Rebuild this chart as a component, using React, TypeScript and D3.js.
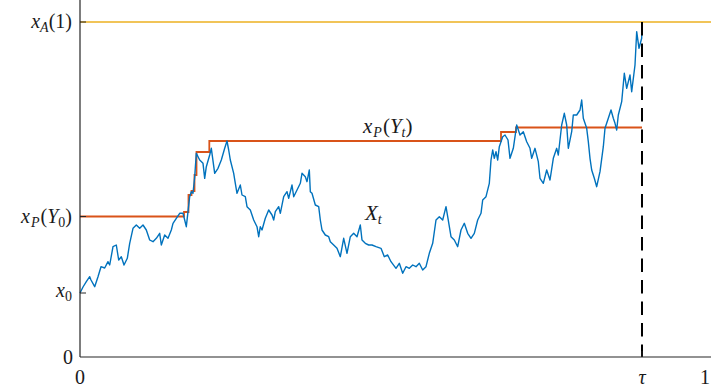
import React from "react";
import * as d3 from "d3";

// Sample path of X_t on [0, tau], as (time, level) pairs
const path: [number, number][] = [
  [0, 0.64], [0.0048, 0.7], [0.0101, 0.753], [0.0155, 0.803], [0.0176, 0.77],
  [0.0235, 0.703], [0.0288, 0.803], [0.0336, 0.903], [0.0395, 0.89], [0.0448, 0.953],
  [0.0475, 0.92], [0.0528, 1.103], [0.0581, 1.12], [0.0619, 0.97], [0.0661, 1.003],
  [0.0704, 0.92], [0.0757, 0.987], [0.0795, 1.137], [0.0848, 1.287], [0.0901, 1.32],
  [0.0955, 1.287], [0.1008, 1.32], [0.1061, 1.27], [0.1115, 1.17], [0.1168, 1.153],
  [0.1221, 1.187], [0.1275, 1.237], [0.1301, 1.12], [0.1355, 1.22], [0.1408, 1.187],
  [0.1461, 1.27], [0.1488, 1.337], [0.1541, 1.387], [0.1595, 1.437], [0.1648, 1.437],
  [0.1675, 1.37], [0.1701, 1.303], [0.1728, 1.453], [0.1755, 1.603], [0.1781, 1.653],
  [0.1808, 1.637], [0.1835, 1.803], [0.1861, 2.037], [0.1915, 1.97], [0.1968, 1.937],
  [0.1995, 1.787], [0.2021, 1.903], [0.2075, 2.02], [0.2101, 2.087], [0.2155, 1.837],
  [0.2208, 1.887], [0.2261, 1.97], [0.2315, 2.087], [0.2352, 2.16], [0.2379, 2.07],
  [0.2405, 1.97], [0.2459, 1.837], [0.2485, 1.737], [0.2512, 1.637], [0.2565, 1.72],
  [0.2592, 1.62], [0.2645, 1.603], [0.2672, 1.503], [0.2725, 1.47], [0.2779, 1.37],
  [0.2832, 1.303], [0.2859, 1.203], [0.2885, 1.303], [0.2912, 1.27], [0.2965, 1.387],
  [0.3019, 1.47], [0.3072, 1.42], [0.3099, 1.37], [0.3125, 1.453], [0.3179, 1.503],
  [0.3205, 1.437], [0.3259, 1.603], [0.3312, 1.653], [0.3339, 1.587], [0.3392, 1.72],
  [0.3419, 1.603], [0.3472, 1.67], [0.3525, 1.737], [0.3552, 1.837], [0.3605, 1.803],
  [0.3632, 1.753], [0.3669, 1.87], [0.3685, 1.653], [0.3712, 1.637], [0.3765, 1.52],
  [0.3819, 1.503], [0.3845, 1.37], [0.3872, 1.27], [0.3925, 1.22], [0.3979, 1.203],
  [0.4005, 1.153], [0.4059, 1.12], [0.4112, 1.087], [0.4165, 1.003], [0.4219, 1.187],
  [0.4272, 1.037], [0.4325, 1.203], [0.4379, 1.237], [0.4432, 1.203], [0.4485, 1.32],
  [0.4512, 1.17], [0.4565, 1.137], [0.4619, 1.12], [0.4672, 1.12], [0.4736, 1.103],
  [0.4816, 1.087], [0.4869, 1.003], [0.4923, 1.02], [0.4976, 0.953], [0.5056, 0.887],
  [0.5109, 0.937], [0.5163, 0.837], [0.5216, 0.903], [0.5269, 0.887], [0.5323, 0.92],
  [0.5376, 0.903], [0.5429, 0.937], [0.5483, 0.87], [0.5536, 0.903], [0.5589, 1.037],
  [0.5643, 1.137], [0.5696, 1.37], [0.5749, 1.403], [0.5803, 1.37], [0.5856, 1.503],
  [0.5883, 1.403], [0.5936, 1.203], [0.5989, 1.17], [0.6043, 1.103], [0.6096, 1.27],
  [0.6149, 1.337], [0.6203, 1.237], [0.6256, 1.187], [0.6309, 1.237], [0.6363, 1.37],
  [0.6416, 1.437], [0.6443, 1.57], [0.6496, 1.603], [0.6549, 1.737], [0.6576, 1.97],
  [0.6603, 2.07], [0.6629, 1.987], [0.6656, 2.053], [0.6683, 1.97], [0.6709, 2.103],
  [0.6763, 2.203], [0.68, 2.22], [0.6848, 2.17], [0.688, 1.987], [0.6933, 2.087],
  [0.6987, 2.32], [0.704, 2.22], [0.7093, 2.253], [0.7147, 2.153], [0.72, 2.087],
  [0.7227, 1.987], [0.728, 2.087], [0.7333, 1.953], [0.736, 1.787], [0.7413, 1.737],
  [0.7467, 1.87], [0.752, 1.77], [0.7573, 1.987], [0.7627, 2.087], [0.7653, 2.02],
  [0.7707, 2.32], [0.7749, 2.437], [0.7787, 2.32], [0.7813, 2.087], [0.7867, 2.253],
  [0.7893, 2.42], [0.7947, 2.42], [0.8, 2.47], [0.8027, 2.57], [0.8053, 2.387],
  [0.8107, 2.287], [0.8133, 2.153], [0.816, 1.987], [0.8187, 1.87], [0.8229, 1.787],
  [0.8267, 1.703], [0.832, 1.853], [0.8373, 2.103], [0.84, 2.287], [0.8453, 2.387],
  [0.8496, 2.47], [0.8533, 2.387], [0.856, 2.337], [0.8587, 2.27], [0.8613, 2.42],
  [0.8667, 2.553], [0.8709, 2.837], [0.8747, 2.687], [0.88, 2.82], [0.8827, 2.653],
  [0.888, 2.92], [0.8907, 3.253], [0.8944, 3.087], [0.8987, 3.187], [0.8992, 3.35],
];

// Running level x_P(Y_t): value taken from each time onward
const runningLevel: [number, number][] = [
  [0, 1.405], [0.1664, 1.45], [0.1736, 1.62], [0.1784, 1.66], [0.1832, 1.82],
  [0.1864, 2.05], [0.2069, 2.16], [0.6736, 2.25], [0.6976, 2.295], [0.8992, 2.295],
];

const tau = 0.8992;
const x0 = 0.64;
const xP0 = 1.405;
const xA1 = 3.35;

const W = 711;
const H = 390;

const BLUE = "#0072BD";
const ORANGE = "#D95319";
const YELLOW = "#EDB120";
const AXIS = "#262626";
const FONT = "'Liberation Serif', 'DejaVu Serif', serif";

export default function App() {
  const x = d3.scaleLinear().domain([0, 1]).range([80, 705]);
  const y = d3.scaleLinear().domain([0, xA1]).range([357, 22]);

  const pathLine = d3
    .line<[number, number]>()
    .x((d) => x(d[0]))
    .y((d) => y(d[1]));
  const levelLine = d3
    .line<[number, number]>()
    .x((d) => x(d[0]))
    .y((d) => y(d[1]))
    .curve(d3.curveStepAfter);

  const x0px = x(0);
  const y0px = y(0);
  const tEnd = x.invert(W);

  const mathText = { fontFamily: FONT, fill: "#1a1a1a" } as const;
  const SUB = 14;

  return (
    <svg
      width={W}
      height={H}
      style={{ position: "absolute", left: 0, top: 0, background: "#fff" }}
    >
      {/* level x_A(1) */}
      <line
        x1={x(0)}
        x2={x(tEnd)}
        y1={y(xA1)}
        y2={y(xA1)}
        stroke={YELLOW}
        strokeWidth={1.5}
      />
      {/* running level */}
      <path
        d={levelLine(runningLevel) ?? ""}
        fill="none"
        stroke={ORANGE}
        strokeWidth={1.8}
      />
      {/* sample path */}
      <path
        d={pathLine(path) ?? ""}
        fill="none"
        stroke={BLUE}
        strokeWidth={1.4}
        strokeLinejoin="round"
      />
      {/* stopping time */}
      <line
        x1={x(tau)}
        x2={x(tau)}
        y1={y(xA1)}
        y2={y0px}
        stroke="#000"
        strokeWidth={2}
        strokeDasharray="13.5 8"
      />

      {/* axes */}
      <line x1={x0px} x2={x0px} y1={0} y2={y0px} stroke={AXIS} strokeWidth={1.2} />
      <line x1={x0px} x2={W} y1={y0px} y2={y0px} stroke={AXIS} strokeWidth={1.2} />
      {[x0, xP0, xA1].map((v) => (
        <line key={v} x1={x0px} x2={x0px + 6} y1={y(v)} y2={y(v)} stroke={AXIS} strokeWidth={1} />
      ))}
      {[tau].map((v) => (
        <line key={v} x1={x(v)} x2={x(v)} y1={y0px} y2={y0px - 6} stroke={AXIS} strokeWidth={1} />
      ))}

      {/* y tick labels */}
      <g style={mathText} fontSize={20} textAnchor="end">
        <text x={72} y={y(xA1) + 6}>
          <tspan fontStyle="italic">x</tspan>
          <tspan fontStyle="italic" fontSize={SUB} dy={4}>A</tspan>
          <tspan dy={-4}>(1)</tspan>
        </text>
        <text x={72} y={y(xP0) + 6}>
          <tspan fontStyle="italic">x</tspan>
          <tspan fontStyle="italic" fontSize={SUB} dy={4} dx={1}>P</tspan>
          <tspan dy={-4} dx={1}>(</tspan>
          <tspan fontStyle="italic">Y</tspan>
          <tspan fontSize={SUB} dy={4}>0</tspan>
          <tspan dy={-4}>)</tspan>
        </text>
        <text x={72} y={y(x0) + 4}>
          <tspan fontStyle="italic">x</tspan>
          <tspan fontSize={SUB} dy={4}>0</tspan>
        </text>
        <text x={73} y={y(0) + 7}>0</text>
      </g>

      {/* x tick labels */}
      <g style={mathText} fontSize={20} textAnchor="middle">
        <text x={x(0)} y={384}>0</text>
        <text x={x(tau)} y={384} fontStyle="italic">τ</text>
        <text x={x(1)} y={384}>1</text>
      </g>

      {/* series labels */}
      <g style={mathText} fontSize={21}>
        <text x={363} y={133}>
          <tspan fontStyle="italic">x</tspan>
          <tspan fontStyle="italic" fontSize={SUB} dy={4} dx={1}>P</tspan>
          <tspan dy={-4} dx={1}>(</tspan>
          <tspan fontStyle="italic">Y</tspan>
          <tspan fontStyle="italic" fontSize={SUB} dy={4}>t</tspan>
          <tspan dy={-4}>)</tspan>
        </text>
        <text x={365} y={220}>
          <tspan fontStyle="italic">X</tspan>
          <tspan fontStyle="italic" fontSize={SUB} dy={4}>t</tspan>
        </text>
      </g>
    </svg>
  );
}
